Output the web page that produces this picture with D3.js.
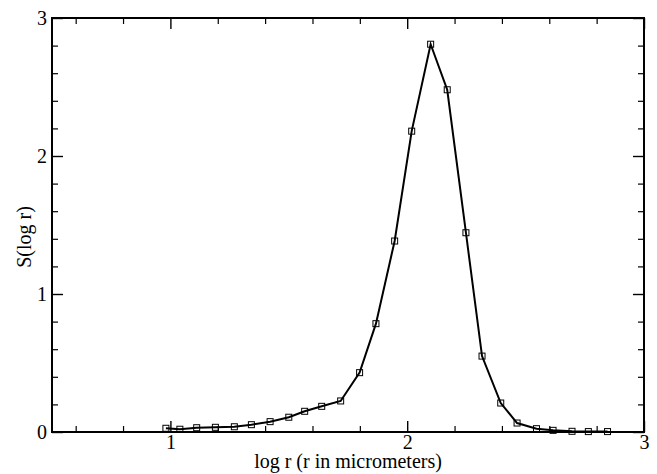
<!DOCTYPE html>
<html>
<head>
<meta charset="utf-8">
<script src="https://cdn.jsdelivr.net/npm/d3@7"></script>
<style>
  body { margin: 0; background: #fff; }
  svg { display: block; font-family: "Liberation Serif", "DejaVu Serif", serif; }
</style>
</head>
<body>
<div id="chart"></div>
<script>
// data
var logR = [0.981, 1.040, 1.111, 1.190, 1.270, 1.342, 1.421, 1.500, 1.567, 1.639,
            1.719, 1.799, 1.868, 1.947, 2.019, 2.099, 2.169, 2.248, 2.316, 2.395,
            2.464, 2.546, 2.616, 2.696, 2.765, 2.846];
var sLogR = [0.027, 0.020, 0.031, 0.034, 0.038, 0.053, 0.075, 0.107, 0.150, 0.186,
             0.225, 0.430, 0.785, 1.384, 2.180, 2.810, 2.480, 1.444, 0.550, 0.210,
             0.065, 0.024, 0.012, 0.005, 0.003, 0.003];
var majorTicks = [1, 2, 3];
var yMajorTicks = [0, 1, 2, 3];
var minorTicks = d3.range(0.6, 3.0, 0.2);
var yMinorTicks = d3.range(0.2, 3.0, 0.2);
var xTitle = 'log r (r in micrometers)';
var yTitle = 'S(log r)';

var width = 657, height = 474;
// plot box (note: "top" is reserved on window, so use pl*)
var plLeft = 52, plRight = 644, plTop = 18, plBottom = 432;

var svg = d3.select('#chart').append('svg')
    .attr('width', width)
    .attr('height', height);

var x = d3.scaleLinear().domain([0.5, 3]).range([plLeft, plRight]);
var y = d3.scaleLinear().domain([0, 3]).range([plBottom, plTop]);

// minor ticks (inward, all four sides)
function minorAxis(axis, tr) {
    svg.append('g').attr('transform', tr)
        .call(axis.tickSize(-6).tickFormat(''))
        .call(function(g) { g.select('.domain').remove(); })
        .selectAll('line').attr('stroke', '#000').attr('stroke-width', 1.2);
}
var xMinor = minorTicks.filter(function(v) { return Math.abs(v - Math.round(v)) > 0.01; });
var yMinor = yMinorTicks.filter(function(v) { return Math.abs(v - Math.round(v)) > 0.01; });
minorAxis(d3.axisBottom(x).tickValues(xMinor), 'translate(0,' + plBottom + ')');
minorAxis(d3.axisTop(x).tickValues(xMinor), 'translate(0,' + plTop + ')');
minorAxis(d3.axisLeft(y).tickValues(yMinor), 'translate(' + plLeft + ',0)');
minorAxis(d3.axisRight(y).tickValues(yMinor), 'translate(' + plRight + ',0)');

// major ticks
var gx = svg.append('g').attr('transform', 'translate(0,' + plBottom + ')')
    .call(d3.axisBottom(x).tickValues(majorTicks).tickSize(-11).tickPadding(3).tickFormat(d3.format('d')));
var gy = svg.append('g').attr('transform', 'translate(' + plLeft + ',0)')
    .call(d3.axisLeft(y).tickValues(yMajorTicks).tickSize(-11).tickPadding(5).tickFormat(d3.format('d')));
var gxt = svg.append('g').attr('transform', 'translate(0,' + plTop + ')')
    .call(d3.axisTop(x).tickValues(majorTicks).tickSize(-11).tickFormat(''));
var gyr = svg.append('g').attr('transform', 'translate(' + plRight + ',0)')
    .call(d3.axisRight(y).tickValues(yMajorTicks).tickSize(-11).tickFormat(''));

[gx, gy, gxt, gyr].forEach(function(g) {
    g.select('.domain').remove();
    g.selectAll('line').attr('stroke', '#000').attr('stroke-width', 1.4);
    g.selectAll('text')
        .attr('fill', '#000')
        .style('font-family', '"Liberation Serif", serif')
        .style('font-size', '20px');
});

// frame
svg.append('rect')
    .attr('x', plLeft).attr('y', plTop)
    .attr('width', plRight - plLeft).attr('height', plBottom - plTop)
    .attr('fill', 'none')
    .attr('stroke', '#000')
    .attr('stroke-width', 2);

var pts = logR.map(function(v, i) { return [v, sLogR[i]]; });

svg.append('path')
    .datum(pts)
    .attr('fill', 'none')
    .attr('stroke', '#000')
    .attr('stroke-width', 2)
    .attr('d', d3.line().x(function(d) { return x(d[0]); }).y(function(d) { return y(d[1]); }));

svg.append('g').selectAll('rect')
    .data(pts)
    .enter()
    .append('rect')
    .attr('x', function(d) { return x(d[0]) - 3; })
    .attr('y', function(d) { return y(d[1]) - 3; })
    .attr('width', 6)
    .attr('height', 6)
    .attr('fill', 'none')
    .attr('stroke', '#000')
    .attr('stroke-width', 1);

// axis titles
svg.append('text')
    .attr('x', (plLeft + plRight) / 2)
    .attr('y', 468)
    .attr('text-anchor', 'middle')
    .style('font-size', '20px')
    .text(xTitle);

svg.append('text')
    .attr('transform', 'translate(31,' + 237 + ') rotate(-90)')
    .attr('text-anchor', 'middle')
    .style('font-size', '20px')
    .text(yTitle);
</script>
</body>
</html>
